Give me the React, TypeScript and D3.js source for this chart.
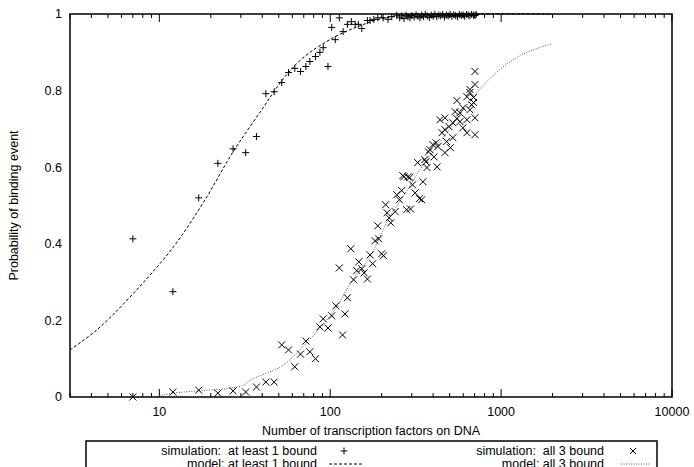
import * as d3 from 'd3';

type Pt = [number, number];

// model curves (N, probability)
const modelAtLeastOne: Pt[] = [
  [3, 0.123], [4.3, 0.175], [6.7, 0.26], [12, 0.39], [18.5, 0.515], [27, 0.64],
  [40, 0.752], [53, 0.83], [69, 0.885], [104, 0.938], [145, 0.967], [189, 0.985],
  [250, 0.995], [500, 1], [2000, 1],
];

const modelAllThree: Pt[] = [
  [10, 0.003], [12, 0.01], [31, 0.03], [34, 0.044], [51, 0.078], [58, 0.097],
  [87, 0.18], [109, 0.235], [135, 0.306], [171, 0.366], [195, 0.418], [223, 0.47],
  [267, 0.523], [335, 0.593], [500, 0.7], [721, 0.795], [984, 0.855], [1340, 0.895],
  [2000, 0.923],
];

// simulation results
const simAtLeastOne: Pt[] = [
  [7, 0.413], [12, 0.275], [17, 0.52], [22, 0.61], [27, 0.648], [32, 0.638], [37, 0.68],
  [42, 0.792], [47, 0.797], [52, 0.821], [57, 0.847], [62, 0.858], [67, 0.85], [72, 0.863],
  [76, 0.876], [82, 0.889], [87, 0.9], [91, 0.912], [97, 0.863], [102, 0.965], [107, 0.933],
  [113, 0.99], [119, 0.954], [126, 0.973], [133, 0.98], [140, 0.973], [146, 0.973],
  [153, 0.962], [165, 0.983], [171, 0.983], [180, 0.986], [190, 0.99], [204, 0.99],
  [218, 0.986], [229, 0.993], [245, 0.997], [255, 0.99], [262, 0.995], [270, 0.988],
  [278, 0.997], [285, 0.993], [293, 0.99], [300, 0.996], [310, 0.992], [318, 0.998],
  [326, 0.994], [335, 0.99], [343, 0.997], [352, 0.993], [360, 0.999], [370, 0.995],
  [380, 0.991], [390, 0.997], [400, 0.994], [410, 0.999], [420, 0.993], [432, 0.997],
  [443, 0.995], [455, 0.999], [466, 0.992], [478, 0.997], [490, 0.995], [503, 0.999],
  [515, 0.994], [528, 0.998], [542, 0.996], [556, 0.993], [570, 0.999], [584, 0.996],
  [598, 0.998], [612, 0.994], [627, 0.999], [642, 0.997], [657, 0.995], [672, 0.999],
  [688, 0.997], [704, 0.996], [715, 0.999],
];

const simAllThree: Pt[] = [
  [7, 0], [12, 0.013], [17, 0.018], [22, 0.01], [27, 0.016], [32, 0.013], [37, 0.026],
  [42, 0.039], [47, 0.039], [52, 0.136], [57, 0.123], [62, 0.079], [67, 0.112], [72, 0.146],
  [76, 0.118], [82, 0.1], [87, 0.183], [91, 0.204], [97, 0.18], [102, 0.212], [108, 0.238],
  [113, 0.337], [118, 0.162], [122, 0.217], [126, 0.259], [132, 0.387], [137, 0.306],
  [143, 0.33], [147, 0.353], [153, 0.335], [158, 0.324], [165, 0.308], [171, 0.371],
  [177, 0.348], [183, 0.408], [190, 0.447], [192, 0.413], [200, 0.374], [205, 0.369],
  [211, 0.502], [215, 0.481], [221, 0.468], [226, 0.455], [240, 0.484], [245, 0.528],
  [254, 0.515], [262, 0.539], [266, 0.578], [270, 0.575], [280, 0.489], [285, 0.575],
  [292, 0.573], [295, 0.491], [303, 0.554], [314, 0.533], [325, 0.612], [333, 0.518],
  [343, 0.515], [349, 0.562], [358, 0.62], [363, 0.614], [368, 0.599], [376, 0.64],
  [383, 0.646], [399, 0.659], [405, 0.627], [416, 0.664], [422, 0.601], [427, 0.654],
  [439, 0.724], [451, 0.69], [469, 0.638], [469, 0.698], [469, 0.729], [480, 0.667],
  [495, 0.706], [505, 0.651], [522, 0.677], [522, 0.716], [537, 0.745], [551, 0.727],
  [551, 0.774], [574, 0.719], [574, 0.742], [598, 0.703], [598, 0.755], [631, 0.69],
  [631, 0.724], [631, 0.784], [657, 0.75], [657, 0.795], [657, 0.803], [672, 0.763],
  [690, 0.769], [690, 0.782], [703, 0.816], [703, 0.85], [703, 0.729], [703, 0.685],
];

const xMajor = [10, 100, 1000, 10000];
const yTicks = [0, 0.2, 0.4, 0.6, 0.8, 1];

const W = 694;
const H = 467;
const m = { left: 70, right: 672, top: 14, bottom: 397 };
const FONT = 'Liberation Sans, Arial, Helvetica, sans-serif';

const App = () => {
  const x = d3.scaleLog().domain([3, 10000]).range([m.left, m.right]);
  const y = d3.scaleLinear().domain([0, 1]).range([m.bottom, m.top]);
  const line = d3.line<Pt>().x(d => x(d[0])).y(d => y(d[1])).curve(d3.curveCatmullRom.alpha(0.5));

  // minor ticks 3..9, 20..90 etc
  const minor: number[] = [];
  [1, 10, 100, 1000].forEach(dec => {
    for (let k = 2; k <= 9; k++) {
      const v = k * dec;
      if (v >= 3 && v < 10000) minor.push(v);
    }
  });

  const plus = (cx: number, cy: number, s = 3.5) =>
    `M${cx - s},${cy}H${cx + s}M${cx},${cy - s}V${cy + s}`;
  const cross = (cx: number, cy: number, s = 3.5) =>
    `M${cx - s},${cy - s}L${cx + s},${cy + s}M${cx - s},${cy + s}L${cx + s},${cy - s}`;

  const legTop = 441;
  const row1 = 455;
  const row2 = 468;

  return (
    <div style={{ position: 'fixed', left: 0, top: 0 }}>
      <svg width={W} height={H} style={{ display: 'block', background: '#fff' }} fontFamily={FONT}>
        <rect width={W} height={H} fill="#fff" />

        {/* y labels */}
        {yTicks.map(t => (
          <text key={t} x={62} y={y(t)} dy="0.35em" textAnchor="end" fontSize={12.5}>
            {t}
          </text>
        ))}
        <text
          transform={`translate(18,${(m.top + m.bottom) / 2}) rotate(-90)`}
          textAnchor="middle"
          fontSize={12.5}
        >
          Probability of binding event
        </text>

        {/* x ticks, bottom and top */}
        {minor.map(v => (
          <g key={'mi' + v} stroke="#000" strokeWidth={1}>
            <line x1={x(v)} x2={x(v)} y1={m.bottom} y2={m.bottom - 4} />
            <line x1={x(v)} x2={x(v)} y1={m.top} y2={m.top + 4} />
          </g>
        ))}
        {xMajor.map(v => (
          <g key={'ma' + v}>
            <line x1={x(v)} x2={x(v)} y1={m.bottom} y2={m.bottom - 8} stroke="#000" />
            <line x1={x(v)} x2={x(v)} y1={m.top} y2={m.top + 8} stroke="#000" />
            <text x={x(v)} y={m.bottom + 15} dy="0.35em" textAnchor="middle" fontSize={12.5}>
              {v}
            </text>
          </g>
        ))}
        <text x={(m.left + m.right) / 2} y={431} dy="0.35em" textAnchor="middle" fontSize={12.5}>
          Number of transcription factors on DNA
        </text>

        {/* model curves */}
        <path d={line(modelAtLeastOne) ?? ''} fill="none" stroke="#000" strokeWidth={1} strokeDasharray="3,2" />
        <path d={line(modelAllThree) ?? ''} fill="none" stroke="#555" strokeWidth={1} strokeDasharray="1,1.5" />

        {/* simulation points */}
        <path
          d={simAtLeastOne.map(d => plus(x(d[0]), y(d[1]))).join('')}
          fill="none"
          stroke="#000"
          strokeWidth={1}
        />
        <path
          d={simAllThree.map(d => cross(x(d[0]), y(d[1]))).join('')}
          fill="none"
          stroke="#000"
          strokeWidth={1}
        />

        {/* border */}
        <rect
          x={m.left}
          y={m.top}
          width={m.right - m.left}
          height={m.bottom - m.top}
          fill="none"
          stroke="#000"
          strokeWidth={1.5}
        />

        {/* legend */}
        <rect x={86} y={legTop} width={571} height={60} fill="none" stroke="#000" strokeWidth={1.5} />
        <g fontSize={12.5}>
          <text x={317} y={row1} textAnchor="end" xmlSpace="preserve">simulation:  at least 1 bound</text>
          <text x={317} y={row2} textAnchor="end">model: at least 1 bound</text>
          <text x={604} y={row1} textAnchor="end" xmlSpace="preserve">simulation:  all 3 bound</text>
          <text x={604} y={row2} textAnchor="end">model: all 3 bound</text>
        </g>
        <path d={plus(344, row1 - 4)} stroke="#000" fill="none" />
        <line x1={329} x2={363} y1={row2 - 4} y2={row2 - 4} stroke="#000" strokeDasharray="3,2" />
        <path d={cross(633, row1 - 4, 3)} stroke="#000" fill="none" />
        <line x1={621} x2={651} y1={row2 - 4} y2={row2 - 4} stroke="#555" strokeDasharray="1,1.5" />
      </svg>
    </div>
  );
};

export default App;
